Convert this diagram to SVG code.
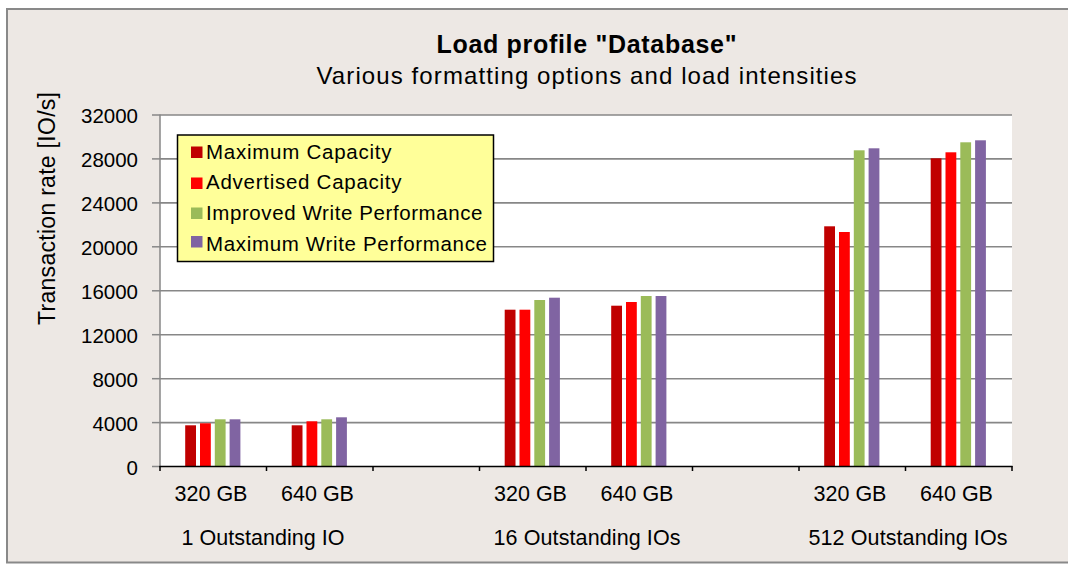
<svg xmlns="http://www.w3.org/2000/svg" width="1068" height="565" viewBox="0 0 1068 565">
<style>
text{font-family:"Liberation Sans",Arial,sans-serif;fill:#000}
.grid{stroke:#878787;stroke-width:1.6}
.tick{stroke:#878787;stroke-width:1.5}
.xtick{stroke:#000;stroke-width:1.5}
.ylab{font-size:20.5px;text-anchor:end}
.xlab{font-size:21.5px;text-anchor:middle}
.leg{font-size:20.5px}
.s1{fill:#C00000}.s2{fill:#FF0000}.s3{fill:#9BBB59}.s4{fill:#8064A2}
</style>
<rect x="0" y="0" width="1068" height="565" fill="#FFFFFF"/>
<rect id="chart-frame" x="7" y="9" width="1075" height="553.5" fill="#EDE8E4" stroke="#898989" stroke-width="2"/>
<g id="title">
<text x="586.5" y="53" font-size="25" font-weight="bold" text-anchor="middle" textLength="300" lengthAdjust="spacing">Load profile "Database"</text>
<text x="586.5" y="84" font-size="24" text-anchor="middle" textLength="540" lengthAdjust="spacing">Various formatting options and load intensities</text>
</g>
<g id="plot-area">
<rect x="160" y="115" width="852" height="351.5" fill="#FFFFFF"/>
<g id="gridlines">
<line class="grid" x1="160" y1="115" x2="1012" y2="115"/>
<line class="grid" x1="160" y1="158.9" x2="1012" y2="158.9"/>
<line class="grid" x1="160" y1="202.9" x2="1012" y2="202.9"/>
<line class="grid" x1="160" y1="246.8" x2="1012" y2="246.8"/>
<line class="grid" x1="160" y1="290.8" x2="1012" y2="290.8"/>
<line class="grid" x1="160" y1="334.7" x2="1012" y2="334.7"/>
<line class="grid" x1="160" y1="378.7" x2="1012" y2="378.7"/>
<line class="grid" x1="160" y1="422.6" x2="1012" y2="422.6"/>
</g>
</g>
<g id="y-axis">
<line class="tick" x1="160" y1="114.5" x2="160" y2="466.5"/>
<line class="tick" x1="152" y1="115" x2="160" y2="115"/>
<line class="tick" x1="152" y1="158.9" x2="160" y2="158.9"/>
<line class="tick" x1="152" y1="202.9" x2="160" y2="202.9"/>
<line class="tick" x1="152" y1="246.8" x2="160" y2="246.8"/>
<line class="tick" x1="152" y1="290.8" x2="160" y2="290.8"/>
<line class="tick" x1="152" y1="334.7" x2="160" y2="334.7"/>
<line class="tick" x1="152" y1="378.7" x2="160" y2="378.7"/>
<line class="tick" x1="152" y1="422.6" x2="160" y2="422.6"/>
<line class="tick" x1="152" y1="466.5" x2="160" y2="466.5"/>
<text class="ylab" x="138" y="122.5">32000</text>
<text class="ylab" x="138" y="166.5">28000</text>
<text class="ylab" x="138" y="210.5">24000</text>
<text class="ylab" x="138" y="254.5">20000</text>
<text class="ylab" x="138" y="298.5">16000</text>
<text class="ylab" x="138" y="342.5">12000</text>
<text class="ylab" x="138" y="386.5">8000</text>
<text class="ylab" x="138" y="430.5">4000</text>
<text class="ylab" x="138" y="474.5">0</text>
<text x="55" y="208.5" font-size="23" text-anchor="middle" transform="rotate(-90 55 208.5)" textLength="233" lengthAdjust="spacing">Transaction rate [IO/s]</text>
</g>
<g id="bars">
<g id="series-maximum-capacity" class="s1">
<rect x="185.2" y="425.3" width="10.8" height="41.2"/>
<rect x="291.7" y="425.3" width="10.8" height="41.2"/>
<rect x="504.7" y="309.7" width="10.8" height="156.8"/>
<rect x="611.2" y="305.7" width="10.8" height="160.8"/>
<rect x="824.2" y="226.3" width="10.8" height="240.2"/>
<rect x="930.7" y="158.3" width="10.8" height="308.2"/>
</g>
<g id="series-advertised-capacity" class="s2">
<rect x="200" y="423.3" width="10.8" height="43.2"/>
<rect x="306.5" y="421.3" width="10.8" height="45.2"/>
<rect x="519.5" y="309.7" width="10.8" height="156.8"/>
<rect x="626" y="302" width="10.8" height="164.5"/>
<rect x="839" y="232" width="10.8" height="234.5"/>
<rect x="945.5" y="152.3" width="10.8" height="314.2"/>
</g>
<g id="series-improved-write-performance" class="s3">
<rect x="214.8" y="419.3" width="10.8" height="47.2"/>
<rect x="321.3" y="419.3" width="10.8" height="47.2"/>
<rect x="534.3" y="300" width="10.8" height="166.5"/>
<rect x="640.8" y="296" width="10.8" height="170.5"/>
<rect x="853.8" y="150.3" width="10.8" height="316.2"/>
<rect x="960.3" y="142.3" width="10.8" height="324.2"/>
</g>
<g id="series-maximum-write-performance" class="s4">
<rect x="229.6" y="419.3" width="10.8" height="47.2"/>
<rect x="336.1" y="417.3" width="10.8" height="49.2"/>
<rect x="549.1" y="297.7" width="10.8" height="168.8"/>
<rect x="655.6" y="296" width="10.8" height="170.5"/>
<rect x="868.6" y="148.3" width="10.8" height="318.2"/>
<rect x="975.1" y="140.3" width="10.8" height="326.2"/>
</g>
</g>
<g id="x-axis">
<line x1="159.5" y1="466.5" x2="1012.5" y2="466.5" stroke="#000" stroke-width="1.6"/>
<line class="xtick" x1="160" y1="466" x2="160" y2="471"/>
<line class="xtick" x1="266.5" y1="466" x2="266.5" y2="471"/>
<line class="xtick" x1="373" y1="466" x2="373" y2="471"/>
<line class="xtick" x1="479.5" y1="466" x2="479.5" y2="471"/>
<line class="xtick" x1="586" y1="466" x2="586" y2="471"/>
<line class="xtick" x1="692.5" y1="466" x2="692.5" y2="471"/>
<line class="xtick" x1="799" y1="466" x2="799" y2="471"/>
<line class="xtick" x1="905.5" y1="466" x2="905.5" y2="471"/>
<line class="xtick" x1="1012" y1="466" x2="1012" y2="471"/>
<text class="xlab" x="211" y="501">320 GB</text>
<text class="xlab" x="317.5" y="501">640 GB</text>
<text class="xlab" x="530.5" y="501">320 GB</text>
<text class="xlab" x="637" y="501">640 GB</text>
<text class="xlab" x="850" y="501">320 GB</text>
<text class="xlab" x="956.5" y="501">640 GB</text>
<text class="xlab" x="263" y="545" textLength="163" lengthAdjust="spacing">1 Outstanding IO</text>
<text class="xlab" x="587" y="545" textLength="187" lengthAdjust="spacing">16 Outstanding IOs</text>
<text class="xlab" x="908" y="545" textLength="199" lengthAdjust="spacing">512 Outstanding IOs</text>
</g>
<g id="legend">
<rect x="177.5" y="135" width="316" height="126.5" fill="#FFFF99" stroke="#000" stroke-width="1.5"/>
<rect class="s1" x="191" y="146.5" width="11.5" height="11.5"/>
<rect class="s2" x="191" y="177.5" width="11.5" height="11.5"/>
<rect class="s3" x="191" y="207.5" width="11.5" height="11.5"/>
<rect class="s4" x="191" y="236" width="11.5" height="11.5"/>
<text class="leg" x="206" y="158.5" textLength="185.5" lengthAdjust="spacing">Maximum Capacity</text>
<text class="leg" x="206" y="189" textLength="195.5" lengthAdjust="spacing">Advertised Capacity</text>
<text class="leg" x="206" y="220" textLength="276.5" lengthAdjust="spacing">Improved Write Performance</text>
<text class="leg" x="206" y="251" textLength="281" lengthAdjust="spacing">Maximum Write Performance</text>
</g>
</svg>
